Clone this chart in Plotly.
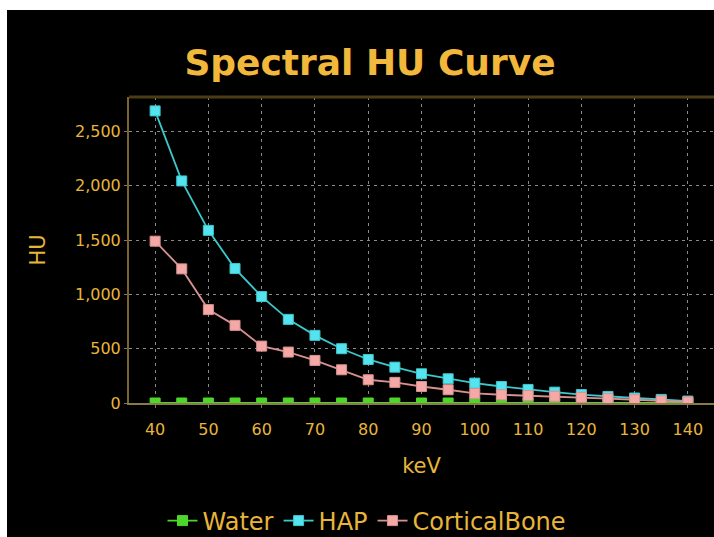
import plotly.graph_objects as go

kev = [40, 45, 50, 55, 60, 65, 70, 75, 80, 85, 90, 95, 100, 105, 110, 115, 120, 125, 130, 135, 140]
water = [0] * 21
hap = [2690, 2045, 1590, 1238, 980, 770, 623, 500, 401, 330, 269, 223, 183, 152, 125, 100, 78, 60, 46, 33, 18]
cortical = [1490, 1235, 860, 715, 524, 469, 392, 306, 214, 190, 152, 122, 88, 76, 68, 62, 52, 40, 30, 20, 10]

series = [
    ("Water", water, "#4fd62a", "#4fd62a"),
    ("HAP", hap, "#55e3f0", "#3cc8cc"),
    ("CorticalBone", cortical, "#f4a9a6", "#d89090"),
]

gold = "#e8b53a"
fig = go.Figure()
for name, vals, mcol, lcol in series:
    fig.add_trace(go.Scatter(
        x=kev, y=vals, name=name, mode="lines+markers",
        line=dict(color=lcol, width=1.8),
        marker=dict(symbol="square", size=10, color=mcol,
                    line=dict(color=lcol, width=1)),
    ))

W, H = 714, 537
L, T = 129, 97
Bpx, Rpx = 403, 714
R, B = W - Rpx, H - Bpx
pw, ph = Rpx - L, Bpx - T

def px_x(p):
    return (p - L) / pw

def px_y(p):
    return (Bpx - p) / ph

fig.update_layout(
    width=W, height=H,
    margin=dict(l=L, r=R, t=T, b=B, autoexpand=False),
    paper_bgcolor="white",
    plot_bgcolor="black",
    font=dict(family="DejaVu Sans", color=gold, size=16),
    title=dict(text="<b>Spectral HU Curve</b>", x=px_x(370), xref="paper", xanchor="center",
               y=1 - 62 / H, yanchor="middle",
               font=dict(family="DejaVu Sans", size=36, color="#f2b83c")),
    showlegend=True,
    legend=dict(orientation="h", x=px_x(367), xanchor="center", y=px_y(521), yanchor="middle",
                font=dict(size=24, color=gold), bgcolor="rgba(0,0,0,0)",
                tracegroupgap=0),
    shapes=[
        dict(type="rect", xref="paper", yref="paper", layer="below",
             x0=px_x(7), x1=px_x(720), y0=px_y(10), y1=px_y(545),
             fillcolor="black", line=dict(width=0)),
        dict(type="line", xref="paper", yref="paper", layer="above",
             x0=0, x1=1, y0=1, y1=1, line=dict(color="#4a3c14", width=3)),
    ],
)

fig.update_xaxes(
    range=[35.1, 144.9], tickvals=list(range(40, 141, 10)),
    showgrid=True, gridcolor="#8a8a8a", griddash="3px,4px", gridwidth=1,
    showline=True, linecolor="#8a7a48", linewidth=2,
    ticks="outside", ticklen=3, tickcolor="#777777",
    ticklabelstandoff=8,
    tickfont=dict(size=16, color=gold),
    title=dict(text="keV", font=dict(size=21, color=gold), standoff=20),
    zeroline=False,
)
fig.update_yaxes(
    range=[0, 2818], tickvals=[0, 500, 1000, 1500, 2000, 2500], tickformat=",",
    showgrid=True, gridcolor="#8a8a8a", griddash="3px,4px", gridwidth=1,
    showline=True, linecolor="#7a6428", linewidth=2,
    ticks="outside", ticklen=3, tickcolor="#777777",
    tickfont=dict(size=16, color=gold),
    title=dict(text="HU", font=dict(size=21, color=gold), standoff=24),
    zeroline=False,
)

fig.write_html("out.html", config={"displayModeBar": False},
               post_script="document.body.style.margin='0';document.body.style.overflow='hidden';")
